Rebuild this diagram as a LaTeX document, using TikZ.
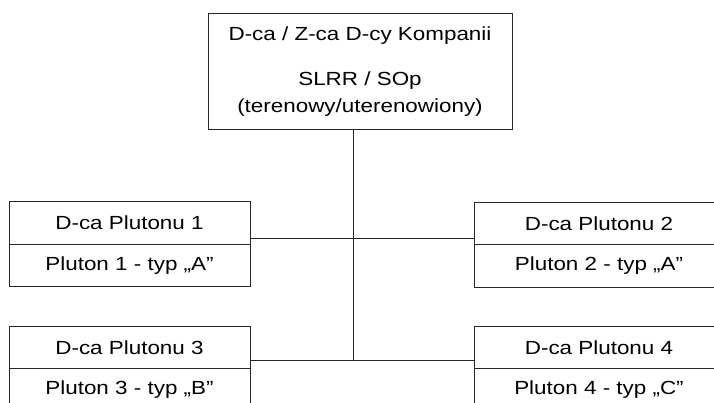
\documentclass[tikz,border=0pt]{standalone}
\usepackage{xcolor}
\usepackage{fontspec}
\setmainfont[FakeStretch=1.18]{Liberation Sans}
\usepackage{tikz}
\usetikzlibrary{positioning}

\begin{document}
\begin{tikzpicture}[x=1pt,y=-1pt]
        \tikzstyle{every node}=[draw=black!85,line width=1pt,outer sep=0pt,inner sep=0pt,
            font=\fontsize{19}{27}\selectfont]
        \tikzstyle{lewy}=[minimum width=241pt,minimum height=42.5pt]
        \tikzstyle{prawy}=[minimum width=250pt,minimum height=42.5pt]
        \tikzstyle{linia}=[draw=black!85,line width=1pt]
        \useasboundingbox (0,0) rectangle (714,403);
        \clip (0,0) rectangle (714,403);
        \node[minimum width=304pt,minimum height=116pt,align=center] (kompania) at (360,72)
            {D-ca / Z-ca D-cy Kompanii\\[18pt]SLRR / SOp\\(terenowy/uterenowiony)};
        \node[lewy] (d1) at (129.5,223) {D-ca Plutonu 1};
        \node[lewy,below=0pt of d1] (p1) {Pluton 1 - typ „A”};
        \node[prawy] (d2) at (599,223.5) {D-ca Plutonu 2};
        \node[prawy,below=0pt of d2] (p2) {Pluton 2 - typ „A”};
        \node[lewy] (d3) at (129.5,347.5) {D-ca Plutonu 3};
        \node[lewy,below=0pt of d3] (p3) {Pluton 3 - typ „B”};
        \node[prawy] (d4) at (599,347.5) {D-ca Plutonu 4};
        \node[prawy,below=0pt of d4] (p4) {Pluton 4 - typ „C”};
        \coordinate (w1) at (353,239);
        \coordinate (w2) at (353,360);
        \draw[linia] (kompania.south -| w1) -- (w2);
        \draw[linia] (w1 -| d1.east) -- (w1 -| d2.west);
        \draw[linia] (w2 -| d3.east) -- (w2 -| d4.west);
    \end{tikzpicture}
\end{document}
